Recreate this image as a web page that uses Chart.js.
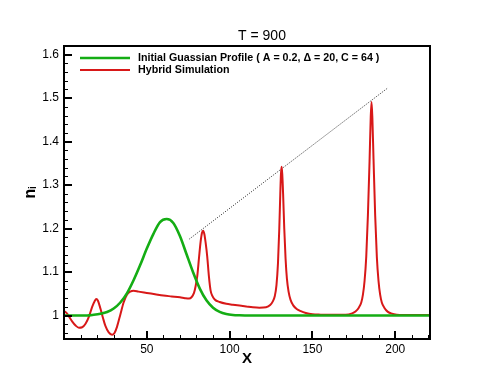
<!DOCTYPE html>
<html>
<head>
<meta charset="utf-8">
<script src="https://cdn.jsdelivr.net/npm/chart.js@4.4.1/dist/chart.umd.min.js"></script>
<style>
  html, body { margin: 0; padding: 0; background: #fff; }
  canvas { display: block; }
</style>
</head>
<body>
<canvas id="chart" width="491" height="382"></canvas>
<script>
// ---------------- DATA ----------------
const titleText = "T = 900";
const xTitle = "X";
const yTitle = "n\u1D62";
const seriesLabels = [
  "Initial Guassian Profile ( A = 0.2, \u0394 = 20, C = 64 )",
  "Hybrid Simulation"
];
const xTickValues = [50, 100, 150, 200];
const yTickValues = [1, 1.1, 1.2, 1.3, 1.4, 1.5, 1.6];

// initial gaussian profile
const greenX = [0, 6, 10, 14, 18, 22, 26, 30, 34, 38, 42, 46, 50, 54, 58, 62,
  66, 70, 74, 78, 82, 86, 90, 94, 98, 102, 106, 112, 120, 140, 160, 180, 200, 221];
const greenY = [1, 1, 1, 1, 1.0016, 1.004, 1.008, 1.016, 1.030, 1.051, 1.081, 1.116, 1.154, 1.188, 1.215, 1.222,
  1.213, 1.183, 1.141, 1.099, 1.062, 1.035, 1.018, 1.0084, 1.0035, 1.0013, 1.0005, 1, 1, 1, 1, 1, 1, 1];

// hybrid simulation
const redX = [0, 1.5, 3, 5, 7, 9, 11, 13, 15, 17, 18.5, 19.5, 20.5, 22, 23.5, 25, 27, 29, 30.5, 32,
  34, 36, 38, 40, 42, 45, 50, 55, 60, 65, 70, 73, 75.5, 77, 78.5, 79.5, 80.5, 81.5, 82.5, 83.3,
  84, 84.7, 85.5, 86.5, 87.5, 88.5, 89.5, 91, 94, 98, 102, 106, 110, 114, 118, 122, 124.5, 126, 127.3, 128.3,
  129.2, 130, 130.6, 131, 131.4, 131.8, 132.3, 133, 133.8, 134.6, 135.6, 136.8, 138.3, 140.5, 143, 146, 150, 155, 160, 165,
  170, 174, 176, 178, 179.5, 180.5, 181.5, 182.5, 183.5, 184.5, 185.2, 185.7, 186.2, 186.9, 187.9, 188.9, 189.9, 190.9, 191.9, 193.4,
  195.4, 197.5, 201, 210, 221];
const redY = [1.010, 1.006, 0.998, 0.986, 0.977, 0.972, 0.973, 0.981, 0.997, 1.020, 1.033, 1.038, 1.034, 1.016, 0.995, 0.976, 0.961, 0.956, 0.960, 0.974,
  1.002, 1.030, 1.048, 1.055, 1.057, 1.055, 1.052, 1.049, 1.046, 1.044, 1.042, 1.040, 1.039, 1.042, 1.052, 1.068, 1.092, 1.132, 1.170, 1.190,
  1.195, 1.188, 1.168, 1.135, 1.090, 1.058, 1.046, 1.037, 1.031, 1.027, 1.025, 1.023, 1.021, 1.019, 1.018, 1.019, 1.024, 1.032, 1.045, 1.070,
  1.120, 1.200, 1.280, 1.325, 1.342, 1.325, 1.280, 1.200, 1.130, 1.085, 1.055, 1.036, 1.024, 1.015, 1.010, 1.006, 1.003, 1.002, 1.0015, 1.002,
  1.002, 1.005, 1.009, 1.018, 1.030, 1.048, 1.080, 1.135, 1.230, 1.355, 1.455, 1.491, 1.455, 1.360, 1.230, 1.135, 1.080, 1.048, 1.030, 1.018,
  1.009, 1.005, 1.002, 1.001, 1.001];

// dotted line through the peaks
const guideX = [75.7, 195.5];
const guideY = [1.176, 1.5235];

// ---------------- STYLE ----------------
const FONT = "'Liberation Sans', Arial, Helvetica, sans-serif";
const GREEN = "#14ad14";
const RED = "#d81818";

const toPoints = (xs, ys) => xs.map((x, i) => ({ x, y: ys[i] }));

// tecplot-like frame, inward ticks, title and in-plot legend
const tecplotFrame = {
  id: "tecplotFrame",
  afterDraw(chart) {
    const { ctx, chartArea: a, scales: { x, y } } = chart;
    ctx.save();
    ctx.strokeStyle = "#000";

    // bottom ticks every 10, major every 50
    for (let k = 1; k * 10 < x.max; k++) {
      const major = k % 5 === 0;
      const px = Math.round(x.getPixelForValue(k * 10));
      ctx.lineWidth = major ? 2 : 1;
      ctx.beginPath();
      ctx.moveTo(px + (major ? 0 : 0.5), a.bottom);
      ctx.lineTo(px + (major ? 0 : 0.5), a.bottom - (major ? 8 : 4));
      ctx.stroke();
    }
    // left ticks every 0.02, major every 0.1
    for (let k = 48; k * 0.02 <= y.max + 1e-9; k++) {
      const major = k % 5 === 0;
      const py = Math.round(y.getPixelForValue(k * 0.02));
      ctx.lineWidth = major ? 2 : 1;
      ctx.beginPath();
      ctx.moveTo(a.left, py + (major ? 0 : 0.5));
      ctx.lineTo(a.left + (major ? 8 : 4), py + (major ? 0 : 0.5));
      ctx.stroke();
    }

    ctx.lineWidth = 2;
    ctx.strokeRect(a.left, a.top, a.right - a.left, a.bottom - a.top);

    // title
    ctx.fillStyle = "#000";
    ctx.font = "14px " + FONT;
    ctx.textAlign = "center";
    ctx.textBaseline = "middle";
    ctx.fillText(titleText, 262, 36);

    // legend
    ctx.textAlign = "left";
    ctx.font = "bold 10.7px " + FONT;
    [58, 70].forEach((ly, i) => {
      const ds = chart.data.datasets[i];
      ctx.strokeStyle = ds.borderColor;
      ctx.lineWidth = ds.borderWidth;
      ctx.beginPath();
      ctx.moveTo(80, ly);
      ctx.lineTo(130, ly);
      ctx.stroke();
      ctx.fillText(ds.label, 138, ly);
    });
    ctx.restore();
  }
};

new Chart(document.getElementById("chart"), {
  type: "line",
  data: {
    datasets: [
      {
        label: seriesLabels[0],
        data: toPoints(greenX, greenY),
        borderColor: GREEN,
        borderWidth: 2.6,
        pointRadius: 0,
        cubicInterpolationMode: "monotone"
      },
      {
        label: seriesLabels[1],
        data: toPoints(redX, redY),
        borderColor: RED,
        borderWidth: 2,
        pointRadius: 0,
        cubicInterpolationMode: "monotone"
      },
      {
        label: "guide",
        data: toPoints(guideX, guideY),
        borderColor: "#222",
        borderWidth: 1,
        borderDash: [1, 1.5],
        pointRadius: 0
      }
    ]
  },
  options: {
    responsive: false,
    animation: false,
    events: [],
    layout: { padding: { left: 0, top: 46, right: 61, bottom: 0 } },
    plugins: {
      legend: { display: false },
      title: { display: false },
      tooltip: { enabled: false }
    },
    scales: {
      x: {
        type: "linear",
        min: 0,
        max: 221,
        grid: { display: false, drawTicks: false },
        border: { display: false },
        afterBuildTicks: s => { s.ticks = xTickValues.map(v => ({ value: v })); },
        afterFit: s => { s.height = 43; },
        ticks: {
          padding: 3,
          color: "#000",
          maxRotation: 0,
          autoSkip: false,
          font: { family: FONT, size: 12 }
        },
        title: {
          display: true,
          text: xTitle,
          color: "#000",
          font: { family: FONT, size: 15, weight: "bold" },
          padding: { top: 0, bottom: 14 }
        }
      },
      y: {
        type: "linear",
        min: 0.946,
        max: 1.62,
        grid: { display: false, drawTicks: false },
        border: { display: false },
        afterBuildTicks: s => { s.ticks = yTickValues.map(v => ({ value: v })); },
        afterFit: s => { s.width = 64; },
        ticks: {
          padding: 5,
          color: "#000",
          autoSkip: false,
          font: { family: FONT, size: 12 },
          callback: v => String(Math.round(v * 10) / 10)
        },
        title: {
          display: true,
          text: yTitle,
          color: "#000",
          font: { family: FONT, size: 16, weight: "bold" },
          padding: { top: 21, bottom: 0 }
        }
      }
    }
  },
  plugins: [tecplotFrame]
});
</script>
</body>
</html>
